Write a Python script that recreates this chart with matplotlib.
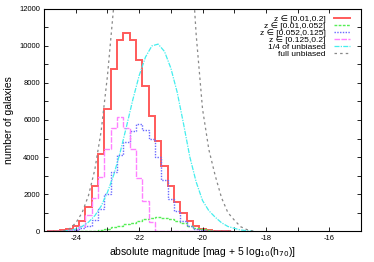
import numpy as np
import matplotlib
matplotlib.use("Agg")
import matplotlib.pyplot as plt
from matplotlib.ticker import MultipleLocator

plt.rcParams['font.family'] = ['Liberation Sans', 'DejaVu Sans']
plt.rcParams['axes.unicode_minus'] = False

# histogram bin centres (0.2 mag bins)
bin_centers = [-24.8, -24.6, -24.4, -24.2, -24.0, -23.8, -23.6, -23.4, -23.2, -23.0,
               -22.8, -22.6, -22.4, -22.2, -22.0, -21.8, -21.6, -21.4, -21.2, -21.0,
               -20.8, -20.6, -20.4, -20.2, -20.0, -19.8, -19.6, -19.4, -19.2]

z_all = [0, 20, 50, 100, 290, 560, 1300, 2430, 4150, 6590,
         8740, 10330, 10720, 10330, 9240, 7850, 6230, 4840, 3490, 2430,
         1550, 990, 550, 290, 110, 40, 20, 0, 0]
z_low = [0, 0, 0, 0, 5, 10, 20, 30, 70, 130,
         200, 280, 360, 440, 560, 640, 700, 740, 720, 650,
         540, 420, 300, 180, 90, 40, 15, 5, 0]
z_mid = [0, 0, 0, 20, 50, 150, 300, 600, 1170, 2000,
         3200, 4100, 4830, 5400, 5770, 5460, 4960, 4000, 2780, 1750,
         1100, 550, 250, 100, 40, 10, 0, 0, 0]
z_high = [0, 0, 10, 40, 120, 300, 860, 1800, 2900, 4420,
          5550, 6170, 5570, 4450, 2850, 1640, 500, 15, 0, 0,
          0, 0, 0, 0, 0, 0, 0, 0, 0]

# unbiased model curves
mag_curve = [-24.4, -24.2, -24.0, -23.8, -23.6, -23.4, -23.2, -23.0, -22.8, -22.6,
             -22.4, -22.2, -22.0, -21.8, -21.6, -21.4, -21.2, -21.0, -20.8, -20.6,
             -20.4, -20.2, -20.0, -19.8, -19.6, -19.4, -19.2, -19.0, -18.8, -18.6, -18.4]
quarter_unbiased = [0, 30, 110, 250, 480, 830, 1350, 2100, 3050, 4250,
                    5650, 7100, 8400, 9400, 10000, 10100, 9700, 8800, 7500, 5800,
                    4000, 2650, 1650, 1100, 750, 450, 250, 150, 60, 20, 0]
full_unbiased = [0, 120, 440, 1000, 1920, 3320, 5400, 8400, 12200, 17000,
                 22600, 28400, 33600, 37600, 40000, 40400, 38800, 35200, 30000, 23200,
                 16000, 10600, 6600, 4400, 3000, 1800, 1000, 600, 240, 80, 0]

edges = np.append(np.array(bin_centers) - 0.1, bin_centers[-1] + 0.1)

fig = plt.figure(figsize=(3.74, 2.62), dpi=100)
ax = fig.add_axes([0.118, 0.118, 0.847, 0.848])

ax.stairs(z_all, edges, color='#ff5a5a', lw=1.4, label='z ∈ [0.01,0.2]')
ax.stairs(z_low, edges, color='#55ee55', lw=1.0, ls=(0, (2, 1)), label='z ∈ [0.01,0.052]')
ax.stairs(z_mid, edges, color='#6a6aff', lw=1.0, ls=(0, (1, 1)), label='z ∈ [0.052,0.125]')
ax.stairs(z_high, edges, color='#ff80ff', lw=1.0, ls=(0, (4, 1)), label='z ∈ [0.125,0.2]')
ax.plot(mag_curve, quarter_unbiased, color='#44eeee', lw=0.9, ls=(0, (4, 1, 1, 1)), label='1/4 of unbiased')
ax.plot(mag_curve, full_unbiased, color='#888888', lw=0.9, ls=(0, (2, 2.5)), label='full unbiased')

ax.set_xlim(-25, -15)
ax.set_ylim(0, 12000)
ax.xaxis.set_major_locator(MultipleLocator(2))
ax.xaxis.set_minor_locator(MultipleLocator(1))
ax.yaxis.set_major_locator(MultipleLocator(2000))
ax.yaxis.set_minor_locator(MultipleLocator(1000))
ax.tick_params(which='both', direction='in', top=True, right=True, length=3, width=0.6,
               labelsize=5.5, pad=3)
for s in ax.spines.values():
    s.set_linewidth(0.8)

ax.set_xlabel('absolute magnitude [mag + 5 log$_{10}$(h$_{70}$)]', fontsize=7.5, labelpad=2)
ax.set_ylabel('number of galaxies', fontsize=7.5, labelpad=4)

ax.legend(loc='upper right', frameon=False, markerfirst=False, fontsize=6,
          labelspacing=-0.12, handlelength=1.9, handletextpad=1.0,
          borderaxespad=0.0, bbox_to_anchor=(0.975, 0.985))

fig.savefig('out.png', dpi=100)
